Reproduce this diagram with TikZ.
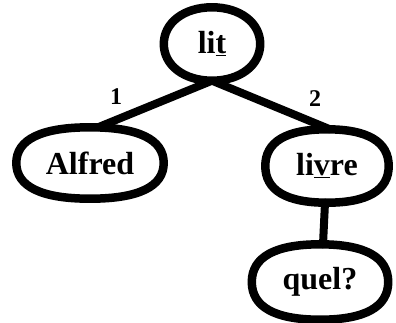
\documentclass[tikz,border=0pt]{standalone}
\usepackage{fontspec}
\setmainfont{Liberation Serif}
\usetikzlibrary{calc}
\newcommand\ovalpath[2]{%
  \draw[oline] (#1.west)
    .. controls ($(#1.west)!#2!(#1.north west)$) and ($(#1.north)!#2!(#1.north west)$) .. (#1.north)
    .. controls ($(#1.north)!#2!(#1.north east)$) and ($(#1.east)!#2!(#1.north east)$) .. (#1.east)
    .. controls ($(#1.east)!#2!(#1.south east)$) and ($(#1.south)!#2!(#1.south east)$) .. (#1.south)
    .. controls ($(#1.south)!#2!(#1.south west)$) and ($(#1.west)!#2!(#1.south west)$) .. (#1.west) -- cycle;}
\begin{document}
\begin{tikzpicture}[x=1pt,y=-1pt,
  wnode/.style={rectangle,inner sep=0pt,
    font=\fontsize{32}{36}\selectfont\bfseries},
  oline/.style={draw=black,line width=8.5pt,line join=round},
  wedge/.style={line width=8pt,line cap=round},
  elabel/.style={font=\fontsize{24}{26}\selectfont\bfseries}]
\useasboundingbox (0,0) rectangle (396,322);
\node[wnode,minimum width=96pt,minimum height=73pt] (lit) at (212,44) {li\underline{t}};
\node[wnode,minimum width=147pt,minimum height=71pt] (alfred) at (90,163) {Alfred};
\node[wnode,minimum width=123pt,minimum height=73pt] (livre) at (327,166) {li\underline{v}re};
\node[wnode,minimum width=136pt,minimum height=75pt] (quel) at (320,282) {quel?};
\ovalpath{lit}{0.58}
\ovalpath{alfred}{0.66}
\ovalpath{livre}{0.66}
\ovalpath{quel}{0.66}
\draw[wedge] (lit.south) -- ([xshift=8pt]alfred.north);
\draw[wedge] (lit.south) -- ([xshift=3pt]livre.north);
\draw[wedge] ([xshift=-2pt]livre.south) -- ([xshift=3pt]quel.north);
\node[elabel] (l1) at (116,97) {1};
\node[elabel] (l2) at (315,99) {2};
\end{tikzpicture}
\end{document}
